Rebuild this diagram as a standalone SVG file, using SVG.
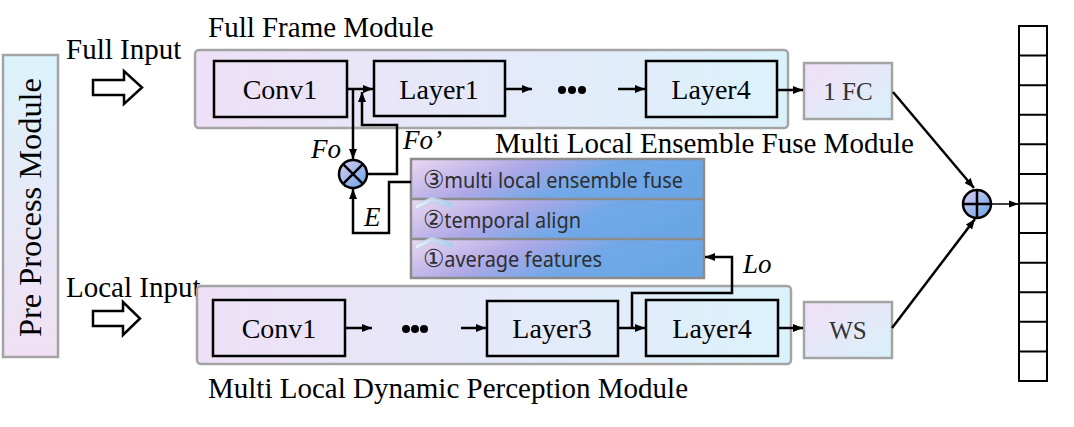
<svg xmlns="http://www.w3.org/2000/svg" width="1074" height="427" viewBox="0 0 1074 427">
<defs>
<linearGradient id="gMod" x1="0" y1="0" x2="1" y2="0"><stop offset="0" stop-color="#eee0f6"/><stop offset="1" stop-color="#dbf2fb"/></linearGradient>
<linearGradient id="gPre" x1="0" y1="0" x2="0" y2="1"><stop offset="0" stop-color="#dbf3fb"/><stop offset="1" stop-color="#f1e0f4"/></linearGradient>
<linearGradient id="gSmall" x1="0" y1="0" x2="1" y2="1"><stop offset="0" stop-color="#f2dff5"/><stop offset="1" stop-color="#d8f1fb"/></linearGradient>
<linearGradient id="gEns" x1="0" y1="0" x2="1" y2="0.3"><stop offset="0" stop-color="#ecd8f1"/><stop offset="0.4" stop-color="#aea8e6"/><stop offset="0.68" stop-color="#72a8e8"/><stop offset="1" stop-color="#6aa6e6"/></linearGradient>
<linearGradient id="gCirc" x1="0" y1="0" x2="1" y2="1"><stop offset="0" stop-color="#e0cdf2"/><stop offset="1" stop-color="#64a4e6"/></linearGradient>
<linearGradient id="gChev" x1="0" y1="0" x2="1" y2="0"><stop offset="0" stop-color="#eef4fb"/><stop offset="1" stop-color="#a9c8ea"/></linearGradient>
<marker id="arr" markerUnits="userSpaceOnUse" markerWidth="11" markerHeight="9" refX="10" refY="4" orient="auto"><path d="M0,0 L10,4 L0,8 z" fill="#000"/></marker>
<marker id="arrS" markerUnits="userSpaceOnUse" markerWidth="11" markerHeight="9" refX="10" refY="4" orient="auto"><path d="M0,0.5 L10,4 L0,7.5 z" fill="#000"/></marker>
</defs>
<style>
.serif{font-family:"Liberation Serif","Times New Roman",serif;fill:#000}
.lbl{font-size:29px}
.box{font-size:28px;text-anchor:middle}
.small{font-size:25px;text-anchor:middle;fill:#333}
.math{font-family:"Liberation Serif","DejaVu Serif",serif;font-style:italic;font-size:27px;fill:#000}
.ens{font-family:"Noto Sans","DejaVu Sans",sans-serif;font-size:21px;fill:#2e2e2e}
.num{font-family:"DejaVu Sans",sans-serif;font-size:25px}
.mod{fill:url(#gMod);stroke:#a4a4a4;stroke-width:2.5}
.inner{fill:none;stroke:#000;stroke-width:2.5}
.sbox{fill:url(#gSmall);stroke:#a4a4a4;stroke-width:2.5}
.conn{fill:none;stroke:#000;stroke-width:2.5}
.hollow{fill:#fff;stroke:#000;stroke-width:2.5;stroke-linejoin:miter}
</style>
<rect width="1074" height="427" fill="#fff"/>

<g id="preprocess">
<rect x="3" y="55" width="55" height="302" fill="url(#gPre)" stroke="#a4a4a4" stroke-width="2.5"/>
<text class="serif" font-size="31" text-anchor="middle" transform="translate(41,207.5) rotate(-90)" textLength="259" lengthAdjust="spacingAndGlyphs">Pre  Process Module</text>
</g>

<g id="full-input">
<text class="serif lbl" x="66" y="59">Full Input</text>
<path class="hollow" d="M93,80 H124 V71 L142,87.5 L124,104 V95 H93 Z"/>
</g>
<g id="local-input">
<text class="serif lbl" x="66" y="297">Local Input</text>
<path class="hollow" d="M93,311 H123 V302 L140,318.5 L123,335 V326 H93 Z"/>
</g>

<g id="full-frame-module">
<rect class="mod" x="195" y="50" width="593" height="78" rx="4"/>
<text class="serif lbl" x="208" y="37">Full Frame Module</text>
<g id="conv1-top"><rect class="inner" x="214" y="61" width="133" height="56"/><text class="serif box" x="280" y="99">Conv1</text></g>
<g id="layer1-top"><rect class="inner" x="374" y="61" width="131" height="55"/><text class="serif box" x="439" y="99">Layer1</text></g>
<g id="dots-top"><circle cx="562" cy="90" r="4"/><circle cx="572" cy="90" r="4"/><circle cx="582" cy="90" r="4"/></g>
<g id="layer4-top"><rect class="inner" x="646" y="61" width="131" height="56"/><text class="serif box" x="711" y="99">Layer4</text></g>
</g>

<g id="fc">
<rect class="sbox" x="804" y="63" width="88" height="56"/>
<text class="serif small" x="848" y="100">1 FC</text>
</g>

<g id="local-module">
<rect class="mod" x="197" y="286" width="594" height="78" rx="4"/>
<text class="serif lbl" x="208" y="398">Multi Local Dynamic Perception Module</text>
<g id="conv1-bot"><rect class="inner" x="213" y="300" width="132" height="56"/><text class="serif box" x="279" y="338">Conv1</text></g>
<g id="dots-bot"><circle cx="406" cy="329" r="4"/><circle cx="415" cy="329" r="4"/><circle cx="424" cy="329" r="4"/></g>
<g id="layer3-bot"><rect class="inner" x="487" y="301" width="131" height="55"/><text class="serif box" x="552" y="338">Layer3</text></g>
<g id="layer4-bot"><rect class="inner" x="646" y="300" width="132" height="56"/><text class="serif box" x="712" y="338">Layer4</text></g>
</g>

<g id="ws">
<rect class="sbox" x="804" y="302" width="88" height="56"/>
<text class="serif small" x="848" y="339">WS</text>
</g>

<g id="ensemble-module">
<text class="serif lbl" x="495" y="153">Multi Local Ensemble Fuse Module</text>
<rect x="411" y="159" width="293" height="40" fill="url(#gEns)"/>
<rect x="411" y="199" width="293" height="40" fill="url(#gEns)"/>
<rect x="411" y="239" width="293" height="39" fill="url(#gEns)"/>
<rect x="411" y="159" width="293" height="119" fill="none" stroke="#8c8c8c" stroke-width="2.5"/>
<line x1="411" y1="199" x2="704" y2="199" stroke="#8c8c8c" stroke-width="2.5"/>
<line x1="411" y1="239" x2="704" y2="239" stroke="#8c8c8c" stroke-width="2.5"/>
<path d="M415,205 L432,197 L453,203 L453,208 L432,202 L415,210 Z" fill="url(#gChev)" stroke="#b8cfe8" stroke-width="1" opacity="0.9"/>
<path d="M415,245 L432,237 L453,243 L453,248 L432,242 L415,250 Z" fill="url(#gChev)" stroke="#b8cfe8" stroke-width="1" opacity="0.9"/>
<text class="ens" x="423" y="188" textLength="260" lengthAdjust="spacingAndGlyphs"><tspan class="num">③</tspan>multi local ensemble fuse</text>
<text class="ens" x="423" y="228" textLength="158" lengthAdjust="spacingAndGlyphs"><tspan class="num">②</tspan>temporal align</text>
<text class="ens" x="423" y="267" textLength="179" lengthAdjust="spacingAndGlyphs"><tspan class="num">①</tspan>average features</text>
</g>

<g id="multiply">
<circle cx="353" cy="174" r="14" fill="url(#gCirc)" stroke="#000" stroke-width="2.5"/>
<path d="M343.1,164.1 L362.9,183.9 M362.9,164.1 L343.1,183.9" stroke="#000" stroke-width="2.5"/>
</g>

<g id="add">
<circle cx="977" cy="204" r="14" fill="url(#gCirc)" stroke="#000" stroke-width="2.5"/>
<path d="M963,204 H991 M977,190 V218" stroke="#000" stroke-width="2.5"/>
</g>

<g id="output-vector" fill="none" stroke="#000" stroke-width="2">
<rect x="1019" y="26" width="28" height="355" fill="#fff"/>
<path d="M1019,55.6 H1047 M1019,85.2 H1047 M1019,114.8 H1047 M1019,144.3 H1047 M1019,173.9 H1047 M1019,203.5 H1047 M1019,233.1 H1047 M1019,262.7 H1047 M1019,292.3 H1047 M1019,321.8 H1047 M1019,351.4 H1047"/>
</g>

<g id="connectors">
<path class="conn" d="M347,89 H373" marker-end="url(#arr)"/>
<path class="conn" d="M505,89 H532" marker-end="url(#arr)"/>
<path class="conn" d="M618,89 H645" marker-end="url(#arr)"/>
<path class="conn" d="M777,90 H803" marker-end="url(#arr)"/>
<path class="conn" d="M353,89 V159" marker-end="url(#arr)"/>
<path class="conn" d="M367,174 H397 V125 H362 V92" marker-end="url(#arr)"/>
<path class="conn" d="M411,182 H389 V233 H353 V189" marker-end="url(#arr)"/>
<path class="conn" d="M345,328 H372" marker-end="url(#arr)"/>
<path class="conn" d="M461,328 H486" marker-end="url(#arr)"/>
<path class="conn" d="M618,328 H645" marker-end="url(#arr)"/>
<path class="conn" d="M778,328 H803" marker-end="url(#arr)"/>
<path class="conn" d="M632,328 V293 H732 V257 H705" marker-end="url(#arr)"/>
<path class="conn" d="M893,92 L974,188" marker-end="url(#arr)"/>
<path class="conn" d="M892,328 L975,219" marker-end="url(#arr)"/>
<path fill="none" stroke="#000" stroke-width="1.5" d="M991,204 H1019" marker-end="url(#arrS)"/>
<text class="math" x="311" y="158">Fo</text>
<text class="math" x="403" y="149">Fo’</text>
<text class="math" x="364" y="226">E</text>
<text class="math" x="743" y="273">Lo</text>
</g>
</svg>
